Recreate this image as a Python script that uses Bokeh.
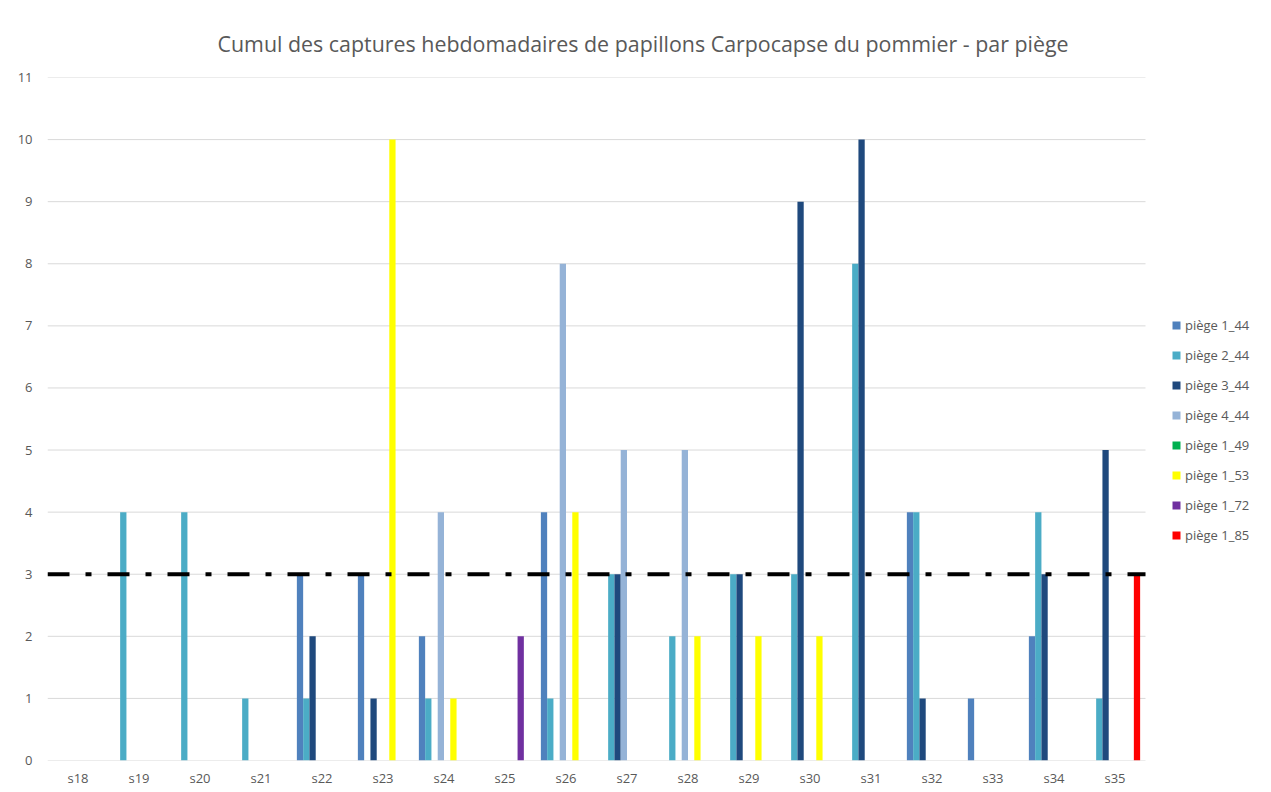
from bokeh.plotting import figure
from bokeh.models import ColumnDataSource, Range1d, FixedTicker, Legend, LegendItem
from bokeh.transform import dodge
from bokeh.embed import file_html
from bokeh.resources import INLINE

weeks = ["s18", "s19", "s20", "s21", "s22", "s23", "s24", "s25", "s26",
         "s27", "s28", "s29", "s30", "s31", "s32", "s33", "s34", "s35"]

piege_1_44 = [0, 0, 0, 0, 3, 3, 2, 0, 4, 0, 0, 0, 0, 0, 4, 1, 2, 0]
piege_2_44 = [0, 4, 4, 1, 1, 0, 1, 0, 1, 3, 2, 3, 3, 8, 4, 0, 4, 1]
piege_3_44 = [0, 0, 0, 0, 2, 1, 0, 0, 0, 3, 0, 3, 9, 10, 1, 0, 3, 5]
piege_4_44 = [0, 0, 0, 0, 0, 0, 4, 0, 8, 5, 5, 0, 0, 0, 0, 0, 0, 0]
piege_1_49 = [0, 0, 0, 0, 0, 0, 0, 0, 0, 0, 0, 0, 0, 0, 0, 0, 0, 0]
piege_1_53 = [0, 0, 0, 0, 0, 10, 1, 0, 4, 0, 2, 2, 2, 0, 0, 0, 0, 0]
piege_1_72 = [0, 0, 0, 0, 0, 0, 0, 2, 0, 0, 0, 0, 0, 0, 0, 0, 0, 0]
piege_1_85 = [0, 0, 0, 0, 0, 0, 0, 0, 0, 0, 0, 0, 0, 0, 0, 0, 0, 3]

series_names = ["piège 1_44", "piège 2_44", "piège 3_44", "piège 4_44",
                "piège 1_49", "piège 1_53", "piège 1_72", "piège 1_85"]
series_values = [piege_1_44, piege_2_44, piege_3_44, piege_4_44,
                 piege_1_49, piege_1_53, piege_1_72, piege_1_85]
series_colors = ["#4F81BD", "#4BACC6", "#1F497D", "#95B3D7",
                 "#00B050", "#FFFF00", "#7030A0", "#FF0000"]

threshold = 3
y_ticks = list(range(0, 12))
title_text = "Cumul des captures hebdomadaires de papillons Carpocapse du pommier - par piège"

FONT = "Open Sans"
TXT = "#595959"

# layout (pixels)
FIG_W, FIG_H = 1261, 789
BORDER_L, BORDER_R = 47, 4
CHART_PX = 1098           # width of the part of the frame holding the categories
frame_w = FIG_W - BORDER_L - BORDER_R
n_cat = len(weeks)
x_start = -0.5
x_stop = x_start + n_cat
x_end = x_start + n_cat * frame_w / CHART_PX

pos = list(range(n_cat))
data = {"pos": pos}
keys = []
for i, vals in enumerate(series_values):
    k = f"s{i}"
    keys.append(k)
    data[k] = vals
source = ColumnDataSource(data)

p = figure(x_range=Range1d(x_start, x_end), y_range=Range1d(0, 11),
           width=FIG_W, height=FIG_H, output_backend="svg", toolbar_location=None,
           min_border_left=BORDER_L, min_border_right=BORDER_R, min_border_top=77,
           min_border_bottom=25)

p.title.text = title_text
p.title.text_font = FONT
p.title.text_font_size = "21.4px"
p.title.text_font_style = "normal"
p.title.text_color = TXT
p.title.align = "left"
p.title.offset = 170
p.title.standoff = 40

p.outline_line_color = None
p.xgrid.grid_line_color = None
p.ygrid.grid_line_color = None

# horizontal gridlines limited to the category area
p.segment(x0=[x_start] * len(y_ticks), x1=[x_stop] * len(y_ticks), y0=y_ticks, y1=y_ticks,
          line_color="#D9D9D9", line_width=1, level="underlay")

p.yaxis.ticker = FixedTicker(ticks=y_ticks)
p.xaxis.ticker = FixedTicker(ticks=pos)
p.xaxis.major_label_overrides = {i: w for i, w in zip(pos, weeks)}
for ax in (p.xaxis, p.yaxis):
    ax.axis_line_color = None
    ax.major_tick_line_color = None
    ax.minor_tick_line_color = None
    ax.major_tick_out = 0
    ax.major_tick_in = 0
    ax.major_label_text_font = FONT
    ax.major_label_text_font_size = "13px"
    ax.major_label_text_color = TXT
p.yaxis.major_label_standoff = 15
p.xaxis.major_label_standoff = 8

n = len(series_values)
bw = 0.103
items = []
for i, (k, name, col) in enumerate(zip(keys, series_names, series_colors)):
    off = (i - (n - 1) / 2) * bw
    r = p.vbar(x=dodge("pos", off), top=k, width=bw, source=source,
               fill_color=col, line_color=None)
    items.append(LegendItem(label=name, renderers=[r]))

p.segment(x0=[x_start], x1=[x_stop], y0=[threshold], y1=[threshold],
          line_color="black", line_width=4, line_dash="22 16 6 16", line_cap="butt")

legend = Legend(items=items, location=(1124, 215), orientation="vertical")
legend.label_text_font = FONT
legend.label_text_font_size = "13px"
legend.label_text_color = TXT
legend.glyph_width = 10
legend.glyph_height = 10
legend.label_height = 20
legend.label_standoff = 4
legend.spacing = 10
legend.padding = 4
legend.margin = 0
legend.border_line_color = None
legend.background_fill_alpha = 0
p.add_layout(legend)

open("out.html", "w").write(file_html(p, INLINE))
